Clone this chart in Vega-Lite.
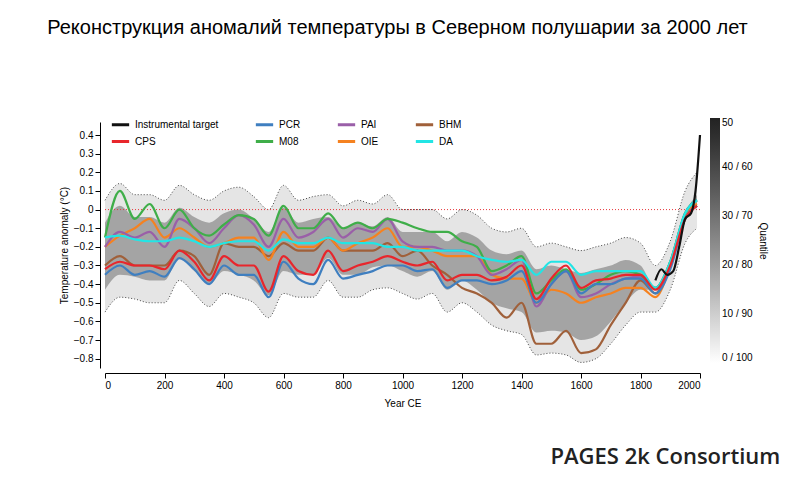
{
  "$schema": "https://vega.github.io/schema/vega-lite/v6.json",
  "width": 595,
  "height": 246,
  "autosize": "none",
  "padding": {"left": 105, "top": 122, "right": 100, "bottom": 116},
  "background": "white",
  "title": {"text": "Реконструкция аномалий температуры в Северном полушарии за 2000 лет", "font": "Liberation Sans", "fontSize": 20, "fontWeight": "normal", "offset": 76, "anchor": "middle", "dx": -5},
  "config": {"view": {"stroke": null}, "axis": {"labelFont": "Liberation Sans", "titleFont": "Liberation Sans", "labelFontSize": 10, "titleFontSize": 10, "titleFontWeight": "normal", "grid": false, "domainColor": "#000", "tickColor": "#000", "labelOverlap": false}, "axisY": {"labelOverlap": false, "tickCount": 13}},
  "datasets": {
    "recon": [
      {"year": 0, "CPS": -0.32, "PCR": -0.35, "M08": -0.15, "PAI": -0.2, "OIE": -0.2, "BHM": -0.3, "DA": -0.15, "lo": -0.55, "hi": 0.05},
      {"year": 50, "CPS": -0.28, "PCR": -0.3, "M08": 0.1, "PAI": -0.12, "OIE": -0.14, "BHM": -0.25, "DA": -0.14, "lo": -0.47, "hi": 0.14},
      {"year": 100, "CPS": -0.3, "PCR": -0.35, "M08": -0.05, "PAI": -0.15, "OIE": -0.1, "BHM": -0.3, "DA": -0.16, "lo": -0.48, "hi": 0.08},
      {"year": 150, "CPS": -0.3, "PCR": -0.33, "M08": 0.03, "PAI": -0.12, "OIE": -0.05, "BHM": -0.3, "DA": -0.17, "lo": -0.5, "hi": 0.08},
      {"year": 200, "CPS": -0.32, "PCR": -0.36, "M08": -0.1, "PAI": -0.2, "OIE": -0.15, "BHM": -0.3, "DA": -0.17, "lo": -0.5, "hi": 0.05},
      {"year": 250, "CPS": -0.22, "PCR": -0.26, "M08": 0.0, "PAI": -0.05, "OIE": -0.1, "BHM": -0.22, "DA": -0.15, "lo": -0.38, "hi": 0.13},
      {"year": 300, "CPS": -0.28, "PCR": -0.32, "M08": -0.1, "PAI": -0.1, "OIE": -0.15, "BHM": -0.25, "DA": -0.17, "lo": -0.45, "hi": 0.08},
      {"year": 350, "CPS": -0.38, "PCR": -0.4, "M08": -0.14, "PAI": -0.18, "OIE": -0.2, "BHM": -0.35, "DA": -0.2, "lo": -0.52, "hi": 0.05},
      {"year": 400, "CPS": -0.25, "PCR": -0.3, "M08": -0.08, "PAI": -0.1, "OIE": -0.18, "BHM": -0.18, "DA": -0.18, "lo": -0.45, "hi": 0.1},
      {"year": 450, "CPS": -0.3, "PCR": -0.35, "M08": -0.03, "PAI": -0.03, "OIE": -0.15, "BHM": -0.2, "DA": -0.17, "lo": -0.47, "hi": 0.12},
      {"year": 500, "CPS": -0.3, "PCR": -0.35, "M08": -0.05, "PAI": -0.08, "OIE": -0.15, "BHM": -0.2, "DA": -0.17, "lo": -0.5, "hi": 0.07},
      {"year": 550, "CPS": -0.44, "PCR": -0.47, "M08": -0.14, "PAI": -0.2, "OIE": -0.27, "BHM": -0.25, "DA": -0.22, "lo": -0.58, "hi": 0.0},
      {"year": 600, "CPS": -0.25, "PCR": -0.28, "M08": 0.02, "PAI": -0.05, "OIE": -0.12, "BHM": -0.18, "DA": -0.16, "lo": -0.45, "hi": 0.13},
      {"year": 650, "CPS": -0.33, "PCR": -0.37, "M08": -0.1, "PAI": -0.15, "OIE": -0.2, "BHM": -0.22, "DA": -0.18, "lo": -0.47, "hi": 0.05},
      {"year": 700, "CPS": -0.35, "PCR": -0.4, "M08": -0.1, "PAI": -0.12, "OIE": -0.2, "BHM": -0.22, "DA": -0.18, "lo": -0.47, "hi": 0.07},
      {"year": 750, "CPS": -0.22, "PCR": -0.27, "M08": -0.02, "PAI": -0.05, "OIE": -0.15, "BHM": -0.15, "DA": -0.15, "lo": -0.38, "hi": 0.08},
      {"year": 800, "CPS": -0.33, "PCR": -0.37, "M08": -0.1, "PAI": -0.15, "OIE": -0.22, "BHM": -0.22, "DA": -0.18, "lo": -0.47, "hi": 0.02},
      {"year": 850, "CPS": -0.3, "PCR": -0.35, "M08": -0.07, "PAI": -0.1, "OIE": -0.18, "BHM": -0.22, "DA": -0.18, "lo": -0.47, "hi": 0.05},
      {"year": 900, "CPS": -0.28, "PCR": -0.33, "M08": -0.1, "PAI": -0.12, "OIE": -0.15, "BHM": -0.22, "DA": -0.18, "lo": -0.43, "hi": 0.03},
      {"year": 950, "CPS": -0.25, "PCR": -0.3, "M08": -0.05, "PAI": -0.05, "OIE": -0.1, "BHM": -0.18, "DA": -0.2, "lo": -0.42, "hi": 0.08},
      {"year": 1000, "CPS": -0.28, "PCR": -0.3, "M08": -0.07, "PAI": -0.17, "OIE": -0.2, "BHM": -0.25, "DA": -0.2, "lo": -0.45, "hi": 0.0},
      {"year": 1050, "CPS": -0.3, "PCR": -0.33, "M08": -0.1, "PAI": -0.2, "OIE": -0.2, "BHM": -0.22, "DA": -0.22, "lo": -0.48, "hi": 0.0},
      {"year": 1100, "CPS": -0.28, "PCR": -0.32, "M08": -0.12, "PAI": -0.2, "OIE": -0.22, "BHM": -0.3, "DA": -0.22, "lo": -0.45, "hi": 0.0},
      {"year": 1150, "CPS": -0.38, "PCR": -0.42, "M08": -0.12, "PAI": -0.22, "OIE": -0.25, "BHM": -0.35, "DA": -0.22, "lo": -0.55, "hi": -0.05},
      {"year": 1200, "CPS": -0.35, "PCR": -0.38, "M08": -0.17, "PAI": -0.22, "OIE": -0.25, "BHM": -0.42, "DA": -0.22, "lo": -0.5, "hi": 0.0},
      {"year": 1250, "CPS": -0.35, "PCR": -0.38, "M08": -0.2, "PAI": -0.25, "OIE": -0.25, "BHM": -0.45, "DA": -0.25, "lo": -0.55, "hi": -0.03},
      {"year": 1300, "CPS": -0.38, "PCR": -0.4, "M08": -0.33, "PAI": -0.35, "OIE": -0.35, "BHM": -0.5, "DA": -0.27, "lo": -0.62, "hi": -0.1},
      {"year": 1350, "CPS": -0.36, "PCR": -0.38, "M08": -0.3, "PAI": -0.32, "OIE": -0.37, "BHM": -0.58, "DA": -0.28, "lo": -0.65, "hi": -0.12},
      {"year": 1400, "CPS": -0.3, "PCR": -0.33, "M08": -0.25, "PAI": -0.27, "OIE": -0.37, "BHM": -0.5, "DA": -0.27, "lo": -0.67, "hi": -0.1},
      {"year": 1450, "CPS": -0.48, "PCR": -0.5, "M08": -0.45, "PAI": -0.52, "OIE": -0.5, "BHM": -0.72, "DA": -0.35, "lo": -0.78, "hi": -0.2},
      {"year": 1500, "CPS": -0.37, "PCR": -0.4, "M08": -0.38, "PAI": -0.4, "OIE": -0.43, "BHM": -0.72, "DA": -0.28, "lo": -0.77, "hi": -0.18},
      {"year": 1550, "CPS": -0.3, "PCR": -0.33, "M08": -0.32, "PAI": -0.33, "OIE": -0.45, "BHM": -0.65, "DA": -0.28, "lo": -0.78, "hi": -0.2},
      {"year": 1600, "CPS": -0.42, "PCR": -0.45, "M08": -0.43, "PAI": -0.47, "OIE": -0.5, "BHM": -0.77, "DA": -0.35, "lo": -0.82, "hi": -0.22},
      {"year": 1650, "CPS": -0.38, "PCR": -0.4, "M08": -0.4, "PAI": -0.45, "OIE": -0.47, "BHM": -0.75, "DA": -0.33, "lo": -0.8, "hi": -0.2},
      {"year": 1700, "CPS": -0.37, "PCR": -0.4, "M08": -0.35, "PAI": -0.4, "OIE": -0.45, "BHM": -0.62, "DA": -0.33, "lo": -0.72, "hi": -0.18},
      {"year": 1750, "CPS": -0.35, "PCR": -0.37, "M08": -0.33, "PAI": -0.37, "OIE": -0.42, "BHM": -0.5, "DA": -0.33, "lo": -0.62, "hi": -0.15},
      {"year": 1800, "CPS": -0.35, "PCR": -0.37, "M08": -0.35, "PAI": -0.36, "OIE": -0.42, "BHM": -0.38, "DA": -0.33, "lo": -0.55, "hi": -0.18},
      {"year": 1850, "CPS": -0.43, "PCR": -0.45, "M08": -0.42, "PAI": -0.42, "OIE": -0.47, "BHM": -0.45, "DA": -0.42, "lo": -0.55, "hi": -0.3},
      {"year": 1900, "CPS": -0.3, "PCR": -0.32, "M08": -0.28, "PAI": -0.28, "OIE": -0.3, "BHM": -0.3, "DA": -0.28, "lo": -0.43, "hi": -0.17},
      {"year": 1950, "CPS": -0.05, "PCR": -0.05, "M08": -0.02, "PAI": -0.02, "OIE": -0.03, "BHM": -0.05, "DA": -0.02, "lo": -0.18, "hi": 0.1},
      {"year": 1990, "CPS": 0.02, "PCR": 0.02, "M08": 0.05, "PAI": 0.05, "OIE": 0.03, "BHM": 0.02, "DA": 0.05, "lo": -0.1, "hi": 0.2}
    ],
    "instr": [
      {"year": 1850, "v": -0.38}, {"year": 1870, "v": -0.32}, {"year": 1890, "v": -0.35},
      {"year": 1910, "v": -0.33}, {"year": 1930, "v": -0.2}, {"year": 1950, "v": -0.05},
      {"year": 1970, "v": -0.02}, {"year": 1985, "v": 0.1}, {"year": 2000, "v": 0.4}
    ],
    "bar": [{"q": 0}, {"q": 50}],
    "note": [{"t": "PAGES 2k Consortium"}]
  },
  "layer": [
    {
      "data": {"name": "recon"},
      "mark": {"type": "area", "color": "#cccccc", "opacity": 0.5, "interpolate": "monotone"},
      "encoding": {
        "x": {"field": "year", "type": "quantitative", "scale": {"domain": [0, 2000], "nice": false}, "axis": {"values": [0, 100, 200, 300, 400, 500, 600, 700, 800, 900, 1000, 1100, 1200, 1300, 1400, 1500, 1600, 1700, 1800, 1900, 2000], "labelExpr": "datum.value % 200 == 0 ? datum.value : ''", "labelOverlap": false, "title": "Year CE", "titlePadding": 8, "offset": 5}},
        "y": {"field": "lo", "type": "quantitative", "scale": {"domain": [-0.85, 0.47], "nice": false}, "axis": {"tickCount": 13, "labelOverlap": false, "labelBound": false, "labelExpr": "datum.value == 0 ? '0' : format(datum.value, '.1f')", "title": "Temperature anomaly (°C)", "offset": 5}},
        "y2": {"field": "hi"}
      }
    },
    {
      "data": {"name": "recon"},
      "transform": [{"calculate": "datum.lo + 0.12", "as": "lo2"}, {"calculate": "datum.hi - 0.12", "as": "hi2"}],
      "mark": {"type": "area", "color": "#555555", "opacity": 0.45, "interpolate": "monotone"},
      "encoding": {"x": {"field": "year", "type": "quantitative"}, "y": {"field": "lo2", "type": "quantitative"}, "y2": {"field": "hi2"}}
    },
    {
      "data": {"name": "recon"},
      "mark": {"type": "line", "color": "#444", "strokeWidth": 1, "strokeDash": [1, 2], "interpolate": "monotone"},
      "encoding": {"x": {"field": "year", "type": "quantitative"}, "y": {"field": "lo", "type": "quantitative"}}
    },
    {
      "data": {"name": "recon"},
      "mark": {"type": "line", "color": "#444", "strokeWidth": 1, "strokeDash": [1, 2], "interpolate": "monotone"},
      "encoding": {"x": {"field": "year", "type": "quantitative"}, "y": {"field": "hi", "type": "quantitative"}}
    },
    {
      "data": {"values": [{"a": 0}]},
      "mark": {"type": "rule", "color": "#e8383d", "strokeDash": [1, 2], "strokeWidth": 1},
      "encoding": {"y": {"datum": 0}}
    },
    {
      "data": {"name": "recon"},
      "transform": [{"fold": ["BHM", "OIE", "PAI", "M08", "DA", "PCR", "CPS"], "as": ["series", "val"]}],
      "mark": {"type": "line", "strokeWidth": 2.2, "interpolate": "monotone"},
      "encoding": {
        "x": {"field": "year", "type": "quantitative"},
        "y": {"field": "val", "type": "quantitative"},
        "detail": {"field": "series"},
        "stroke": {"field": "series", "type": "nominal",
          "scale": {"domain": ["Instrumental target", "PCR", "PAI", "BHM", "CPS", "M08", "OIE", "DA"], "range": ["#111111", "#3f7fc0", "#9a5fa8", "#a0603a", "#e8262c", "#3fae49", "#f58220", "#22e5e5"]},
          "legend": {"title": null, "orient": "none", "legendX": 5, "legendY": -8, "direction": "horizontal", "columns": 4, "columnPadding": 30, "rowPadding": 0, "symbolType": "stroke", "symbolStrokeWidth": 3, "symbolSize": 300, "labelFont": "Liberation Sans", "labelFontSize": 10, "labelLimit": 120}
        }
      }
    },
    {
      "data": {"name": "instr"},
      "mark": {"type": "line", "strokeWidth": 2.2, "interpolate": "monotone"},
      "encoding": {"x": {"field": "year", "type": "quantitative"}, "y": {"field": "v", "type": "quantitative"}, "stroke": {"datum": "Instrumental target"}}
    },
    {
      "data": {"name": "bar"},
      "mark": {"type": "point", "opacity": 0},
      "encoding": {
        "x": {"datum": 0}, "y": {"datum": 0},
        "fill": {"field": "q", "type": "quantitative",
          "scale": {"domain": [0, 50], "range": ["#ffffff", "#222222"]},
          "legend": {"orient": "none", "legendX": 605, "legendY": -4, "direction": "vertical", "gradientLength": 245, "gradientThickness": 10, "values": [0, 10, 20, 30, 40, 50], "labelExpr": "datum.value == 50 ? '50' : datum.value + ' / ' + (100 - datum.value)", "title": "Quantile", "titleOrient": "right", "titleAngle": 90, "titleFontWeight": "normal", "titleFont": "Liberation Sans", "titleFontSize": 10, "labelFont": "Liberation Sans", "labelFontSize": 10}
        }
      }
    },
    {
      "data": {"name": "note"},
      "mark": {"type": "text", "align": "right", "fontSize": 22, "font": "Open Sans", "fontWeight": 600, "color": "#222", "clip": false},
      "encoding": {"x": {"datum": 2270}, "y": {"datum": -1.33}, "text": {"field": "t"}}
    }
  ]
}
